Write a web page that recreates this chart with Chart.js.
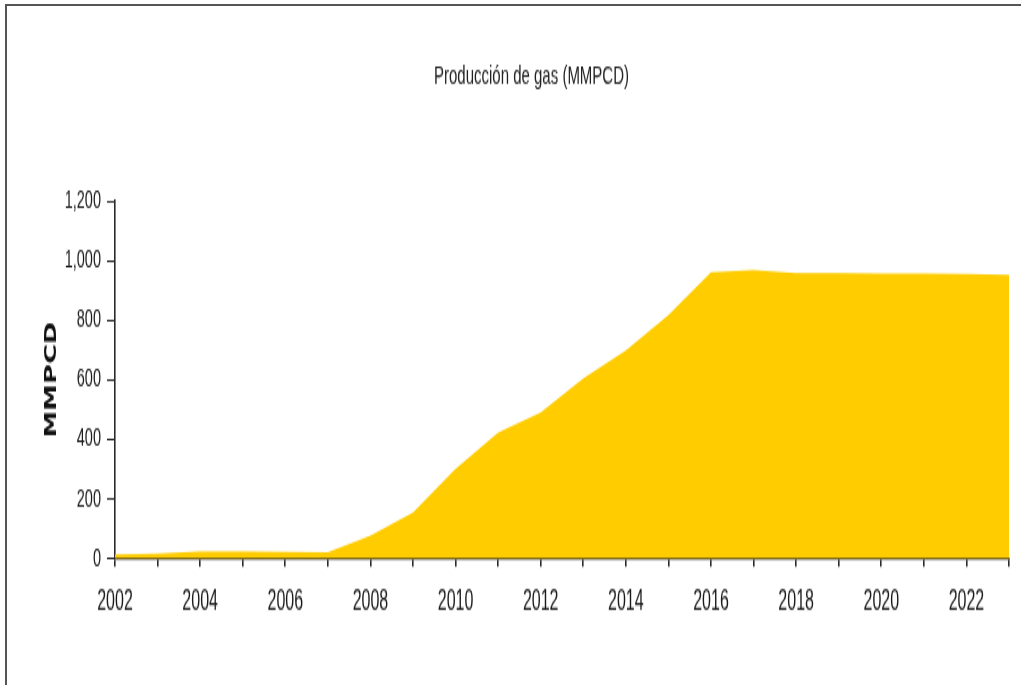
<!DOCTYPE html>
<html>
<head>
<meta charset="utf-8">
<script src="https://cdn.jsdelivr.net/npm/chart.js@4.4.1/dist/chart.umd.min.js"></script>
<style>
  html, body { margin: 0; padding: 0; background: #fff; }
  #wrap { position: relative; width: 1021px; height: 685px; overflow: hidden; }
  #frame {
    position: absolute; left: 5px; top: 4px; right: -10px; bottom: -10px;
    border-top: 2px solid #555; border-left: 2px solid #555;
  }
  /* the chart is drawn short and stretched tall, which gives the tall narrow lettering */
  #stretch {
    position: absolute; left: 0; top: 0;
    width: 1021px; height: 392px;
    transform: scaleY(1.7475); transform-origin: 0 0;
  }
  canvas { display: block; }
</style>
</head>
<body>
<div id="wrap">
  <div id="frame"></div>
  <div id="stretch"><canvas id="gasChart" width="1021" height="392"></canvas></div>
</div>
<script>
// Producción anual de gas, MMPCD
const years = [2002, 2003, 2004, 2005, 2006, 2007, 2008, 2009, 2010, 2011, 2012,
               2013, 2014, 2015, 2016, 2017, 2018, 2019, 2020, 2021, 2022, 2023];
const production = [15, 18, 25, 24, 23, 22, 77, 155, 302, 423, 491,
                    605, 699, 817, 961, 968, 958, 958, 957, 956, 955, 953];
const yTicks = [0, 200, 400, 600, 800, 1000, 1200];

const sans = "'Liberation Sans', Arial, sans-serif";
const axisColor = '#2a2a2a';

const ctx = document.getElementById('gasChart').getContext('2d');
new Chart(ctx, {
    type: 'line',
    data: {
        datasets: [{
            label: 'Producción de gas (MMPCD)',
            data: years.map((y, i) => ({ x: y, y: production[i] })),
            borderWidth: 0,
            borderColor: '#FFCC00',
            backgroundColor: '#FFCC00',
            fill: 'origin',
            pointRadius: 0,
            tension: 0
        }]
    },
    options: {
        responsive: false,
        animation: false,
        // left padding keeps the title centred a bit right of the canvas middle
        layout: { padding: { left: 54, right: 12, top: 0, bottom: 26.5 } },
        plugins: {
            legend: { display: false },
            tooltip: { enabled: false },
            title: {
                display: true,
                text: 'Producción de gas (MMPCD)',
                color: '#222',
                font: { family: sans, size: 15, weight: 'normal' },
                padding: { top: 35, bottom: 62 }
            }
        },
        scales: {
            x: {
                type: 'linear',
                min: years[0],
                max: years[years.length - 1],
                afterBuildTicks: axis => {
                    axis.ticks = years.map(v => ({ value: v }));
                },
                ticks: {
                    autoSkip: false,
                    maxRotation: 0,
                    color: '#1a1a1a',
                    padding: 11,
                    font: { family: sans, size: 16 },
                    callback: v => (v % 2 === 0 ? String(v) : '')
                },
                grid: {
                    drawOnChartArea: false,
                    drawTicks: true,
                    tickLength: 4.6,
                    lineWidth: 1.6,
                    color: axisColor
                },
                border: { color: axisColor, width: 1.2 }
            },
            y: {
                min: 0,
                max: 1200,
                afterBuildTicks: axis => {
                    axis.ticks = yTicks.map(v => ({ value: v }));
                },
                afterFit: axis => { axis.width = 61; },
                ticks: {
                    color: '#1a1a1a',
                    padding: 6,
                    font: { family: sans, size: 14.5 },
                    callback: v => v.toLocaleString('en-US')
                },
                grid: {
                    drawOnChartArea: false,
                    drawTicks: true,
                    tickLength: 8,
                    lineWidth: 1,
                    color: axisColor
                },
                border: { color: axisColor, width: 1.6 },
                title: {
                    display: true,
                    text: 'MMPCD',
                    color: '#111',
                    font: { family: "'DejaVu Sans', sans-serif", size: 15.5, weight: 'bold' },
                    padding: { top: -11, bottom: 0 }
                }
            }
        }
    }
});
</script>
</body>
</html>
